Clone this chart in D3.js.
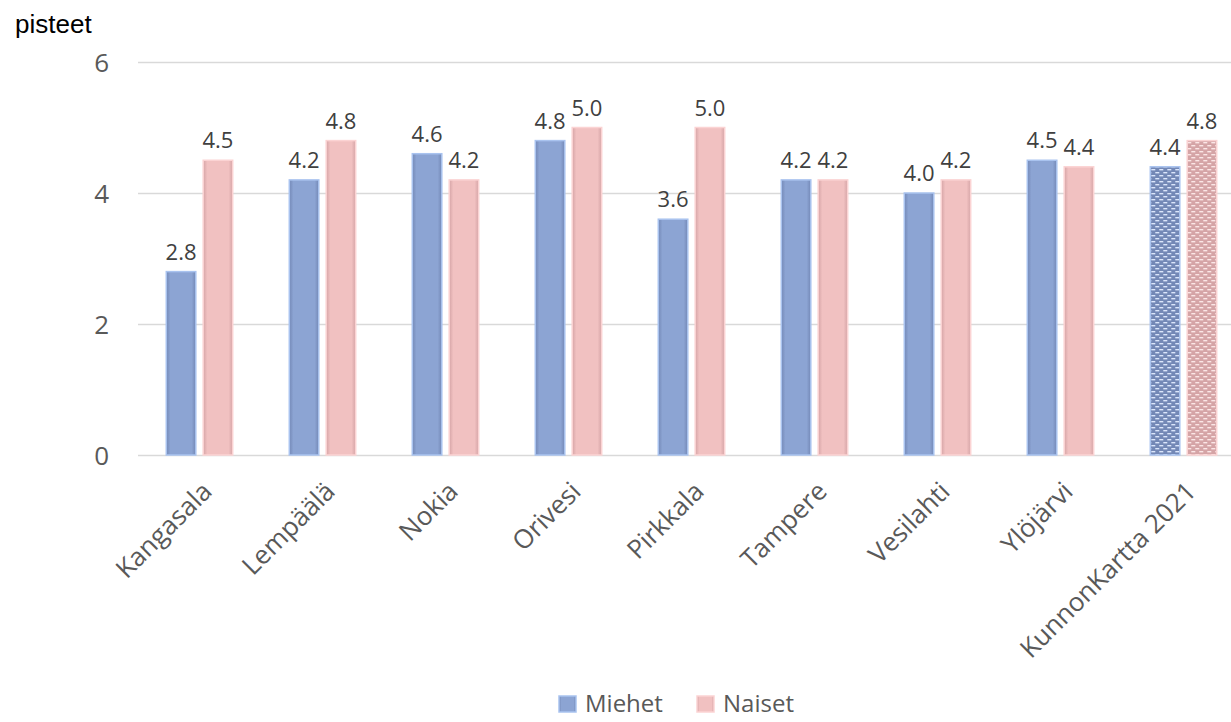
<!DOCTYPE html>
<html>
<head>
<meta charset="utf-8">
<script src="https://cdn.jsdelivr.net/npm/d3@7"></script>
<style>
  html, body { margin: 0; padding: 0; background: #fff; }
  svg { display: block; }
</style>
</head>
<body>
<svg id="chart" width="1231" height="722"></svg>
<script>
// Municipalities and the reference group shown on the x axis
const categories = ["Kangasala", "Lempäälä", "Nokia", "Orivesi", "Pirkkala", "Tampere", "Vesilahti", "Ylöjärvi", "KunnonKartta 2021"];
const seriesNames = ["Miehet", "Naiset"];
// Average points per group
const miehet = [2.8, 4.2, 4.6, 4.8, 3.6, 4.2, 4.0, 4.5, 4.4];
const naiset = [4.5, 4.8, 4.2, 5.0, 5.0, 4.2, 4.2, 4.4, 4.8];
const yTicks = [0, 2, 4, 6];
const referenceCategory = "KunnonKartta 2021";

const rows = categories.map((c, i) => ({ cat: c, values: [
  { key: "Miehet", value: miehet[i] },
  { key: "Naiset", value: naiset[i] }
]}));

const svg = d3.select("#chart");
const font = "'Open Sans', 'Noto Sans', sans-serif";

const x0 = d3.scaleBand().domain(categories).range([138, 1245]).paddingInner(0.46).paddingOuter(0.23);
const x1 = d3.scaleBand().domain(seriesNames).range([0, x0.bandwidth()]).paddingInner(0.2);
const y = d3.scaleLinear().domain([0, 6]).range([455, 62]);

const styles = {
  Miehet: { base: "#8ca4d3", edge: "#7388b6", stroke: "#a9c3ef", dash: "#dbe6fb" },
  Naiset: { base: "#f1c1c1", edge: "#d5a4a6", stroke: "#fbd3d3", dash: "#fbe6e6" }
};

const defs = svg.append("defs");
seriesNames.forEach(k => {
  const s = styles[k];
  const g = defs.append("linearGradient").attr("id", "grad-" + k).attr("x1", 0).attr("x2", 1).attr("y1", 0).attr("y2", 0);
  g.append("stop").attr("offset", "0%").attr("stop-color", s.edge);
  g.append("stop").attr("offset", "14%").attr("stop-color", s.base);
  g.append("stop").attr("offset", "86%").attr("stop-color", s.base);
  g.append("stop").attr("offset", "100%").attr("stop-color", s.edge);

  // Dashed texture used for the national reference bars
  const p = defs.append("pattern").attr("id", "pat-" + k).attr("patternUnits", "userSpaceOnUse")
    .attr("width", 8).attr("height", 6);
  p.append("rect").attr("width", 8).attr("height", 6).attr("fill", s.edge);
  p.append("rect").attr("x", 1).attr("y", 1).attr("width", 4).attr("height", 1.4).attr("fill", s.dash);
  p.append("rect").attr("x", 5).attr("y", 4).attr("width", 4).attr("height", 1.4).attr("fill", s.dash);
  p.append("rect").attr("x", -3).attr("y", 4).attr("width", 4).attr("height", 1.4).attr("fill", s.dash);
});

// Horizontal gridlines
svg.append("g").selectAll("line").data(yTicks).join("line")
  .attr("x1", 138).attr("x2", 1231)
  .attr("y1", d => Math.round(y(d)) + 0.5).attr("y2", d => Math.round(y(d)) + 0.5)
  .attr("stroke", "#d9d9d9").attr("stroke-width", 1.3);

// Y axis labels
const yAxis = d3.axisLeft(y).tickValues(yTicks).tickFormat(d3.format("d")).tickSize(0).tickPadding(0);
const yg = svg.append("g").attr("transform", "translate(109,0)").call(yAxis);
yg.select(".domain").remove();
yg.selectAll("text").attr("font-family", font).attr("font-size", 26).attr("fill", "#595959").attr("dy", "0.35em");

// Axis title
svg.append("text").attr("x", 15).attr("y", 33).text("pisteet")
  .attr("font-family", "Arial, 'Liberation Sans', sans-serif").attr("font-size", 26).attr("fill", "#000");

// Bars
const groups = svg.append("g").selectAll("g").data(rows).join("g")
  .attr("transform", d => `translate(${x0(d.cat)},0)`);

groups.selectAll("rect").data(d => d.values.map(v => ({ ...v, cat: d.cat }))).join("rect")
  .attr("x", d => x1(d.key))
  .attr("y", d => y(d.value))
  .attr("width", x1.bandwidth())
  .attr("height", d => y(0) - y(d.value))
  .attr("fill", d => d.cat === referenceCategory ? `url(#pat-${d.key})` : `url(#grad-${d.key})`)
  .attr("stroke", d => styles[d.key].stroke)
  .attr("stroke-width", 1.5);

// Value labels
groups.selectAll("text").data(d => d.values).join("text")
  .attr("x", d => x1(d.key) + x1.bandwidth() / 2)
  .attr("y", d => y(d.value) - 12)
  .attr("text-anchor", "middle")
  .attr("font-family", font).attr("font-size", 22).attr("fill", "#404040")
  .text(d => d.value.toFixed(1));

// X axis category labels
const xAxis = d3.axisBottom(x0).tickSize(0).tickPadding(0);
const xg = svg.append("g").attr("transform", "translate(0,455)").call(xAxis);
xg.select(".domain").remove();
xg.selectAll("text")
  .attr("font-family", font).attr("font-size", 26).attr("fill", "#595959")
  .attr("text-anchor", "end")
  .attr("dy", 0).attr("y", 0)
  .attr("transform", "translate(14,38) rotate(-45)");

// Legend
const legend = svg.append("g").attr("transform", "translate(559,696)");
const legendX = [0, 138];
seriesNames.forEach((k, i) => {
  const g = legend.append("g").attr("transform", `translate(${legendX[i]},0)`);
  g.append("rect").attr("width", 17).attr("height", 16)
    .attr("fill", `url(#grad-${k})`).attr("stroke", styles[k].stroke).attr("stroke-width", 1.5);
  g.append("text").attr("x", 26).attr("y", 8).attr("dy", "0.35em").text(k)
    .attr("font-family", font).attr("font-size", 24).attr("fill", "#595959");
});
</script>
</body>
</html>
